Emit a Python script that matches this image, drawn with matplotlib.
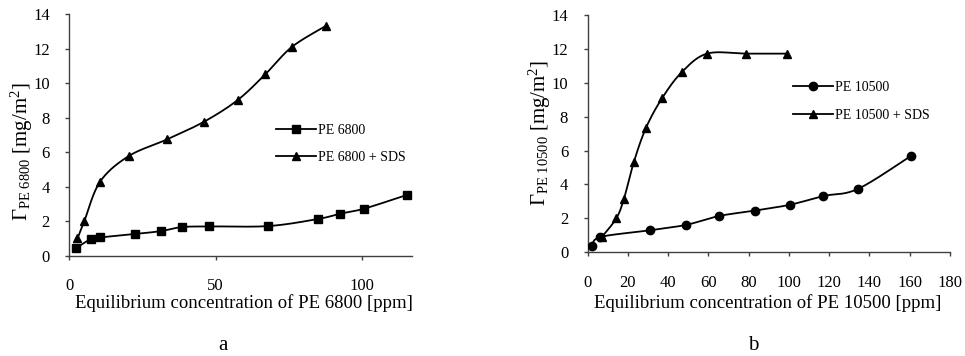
import matplotlib
matplotlib.use("Agg")
import matplotlib.pyplot as plt
import numpy as np
from matplotlib.lines import Line2D

plt.rcParams['font.family'] = ['Liberation Serif', 'DejaVu Serif']
plt.rcParams['mathtext.fontset'] = 'custom'
plt.rcParams['mathtext.rm'] = 'Liberation Serif'
plt.rcParams['mathtext.it'] = 'Liberation Serif:italic'

# panel a: PE 6800
x_pe6800 = [2.2, 7.4, 10.5, 22.5, 31.4, 38.4, 47.8, 68.0, 84.9, 92.6, 100.7, 115.2]
y_pe6800 = [0.43, 0.97, 1.06, 1.26, 1.43, 1.66, 1.70, 1.72, 2.13, 2.44, 2.73, 3.52]
x_pe6800_sds = [2.8, 5.1, 10.5, 20.3, 33.4, 46.1, 57.5, 66.9, 76.0, 87.6]
y_pe6800_sds = [1.0, 1.99, 4.29, 5.78, 6.75, 7.78, 9.03, 10.52, 12.11, 13.33]

# panel b: PE 10500
x_pe10500 = [2.3, 6.3, 31.1, 49.0, 65.2, 83.1, 100.7, 117.1, 134.3, 160.8]
y_pe10500 = [0.35, 0.90, 1.30, 1.62, 2.14, 2.46, 2.81, 3.32, 3.74, 5.70]
x_pe10500_sds = [7.0, 14.2, 18.0, 23.0, 29.0, 36.9, 46.7, 59.3, 78.8, 99.0]
y_pe10500_sds = [0.90, 2.0, 3.15, 5.35, 7.35, 9.08, 10.62, 11.72, 11.72, 11.72]


def smooth(x, y, n=30):
    # excel-like smoothed line (catmull-rom bezier)
    pts = np.column_stack([x, y])
    P = np.vstack([pts[0], pts, pts[-1]])
    segs = []
    t = np.linspace(0, 1, n)[:, None]
    for i in range(1, len(P) - 2):
        p0, p1, p2, p3 = P[i - 1], P[i], P[i + 1], P[i + 2]
        b1 = p1 + (p2 - p0) / 6
        b2 = p2 - (p3 - p1) / 6
        segs.append((1 - t)**3 * p1 + 3 * (1 - t)**2 * t * b1 + 3 * (1 - t) * t**2 * b2 + t**3 * p2)
    s = np.vstack(segs)
    return s[:, 0], s[:, 1]


def series(ax, x, y, marker):
    sx, sy = smooth(x, y)
    ax.plot(sx, sy, color='black', lw=1.3, zorder=2)
    ax.plot(x, y, linestyle='none', marker=marker, color='black', markersize=6, zorder=3)


fig = plt.figure(figsize=(9.65, 3.56), dpi=100)
ax1 = fig.add_axes([0.0718, 0.2817, 0.3551, 0.678])
ax2 = fig.add_axes([0.609, 0.2913, 0.3754, 0.6666])

series(ax1, x_pe6800, y_pe6800, 's')
series(ax1, x_pe6800_sds, y_pe6800_sds, '^')
series(ax2, x_pe10500, y_pe10500, 'o')
series(ax2, x_pe10500_sds, y_pe10500_sds, '^')

ax1.set_xlim(0, 117)
ax1.set_xticks([0, 50, 100])
ax2.set_xlim(0, 180)
ax2.set_xticks(np.arange(0, 181, 20))

for ax in (ax1, ax2):
    ax.set_ylim(0, 14)
    ax.set_yticks(np.arange(0, 15, 2))
    for s in ('top', 'right'):
        ax.spines[s].set_visible(False)
    for s in ('left', 'bottom'):
        ax.spines[s].set_color('#404040')
        ax.spines[s].set_linewidth(1.0)
    ax.tick_params(axis='both', direction='out', length=3, width=1.0, color='#404040', labelsize=12)
    ax.tick_params(axis='y', pad=11)
    ax.tick_params(axis='x', pad=13)


def handle(marker):
    return Line2D([], [], color='black', lw=1.3, marker=marker, markersize=6)


leg_kw = dict(frameon=False, fontsize=10, handlelength=2.9, handletextpad=0.15,
              labelspacing=1.05, borderpad=0, borderaxespad=0, loc='center left')
ax1.legend([handle('s'), handle('^')], ['PE 6800', 'PE 6800 + SDS'],
           bbox_to_anchor=(0.603, 0.463), **leg_kw)
ax2.legend([handle('o'), handle('^')], ['PE 10500', 'PE 10500 + SDS'],
           bbox_to_anchor=(0.567, 0.635), **leg_kw)

W, H = 965, 356
fig.text(22 / W, 1 - 152 / H, r'$\Gamma_{\mathrm{PE\ 6800}}$ [mg/m$^{2}$]', rotation=90,
         ha='center', va='center', fontsize=15)
fig.text(540 / W, 1 - 133 / H, r'$\Gamma_{\mathrm{PE\ 10500}}$ [mg/m$^{2}$]', rotation=90,
         ha='center', va='center', fontsize=15)
fig.text(244 / W, 1 - 303 / H, 'Equilibrium concentration of PE 6800 [ppm]', ha='center', va='center', fontsize=13.5)
fig.text(768 / W, 1 - 303 / H, 'Equilibrium concentration of PE 10500 [ppm]', ha='center', va='center', fontsize=13.5)
fig.text(223 / W, 1 - 346 / H, 'a', ha='center', va='center', fontsize=15)
fig.text(753 / W, 1 - 346 / H, 'b', ha='center', va='center', fontsize=15)

fig.savefig('out.png', dpi=100)
